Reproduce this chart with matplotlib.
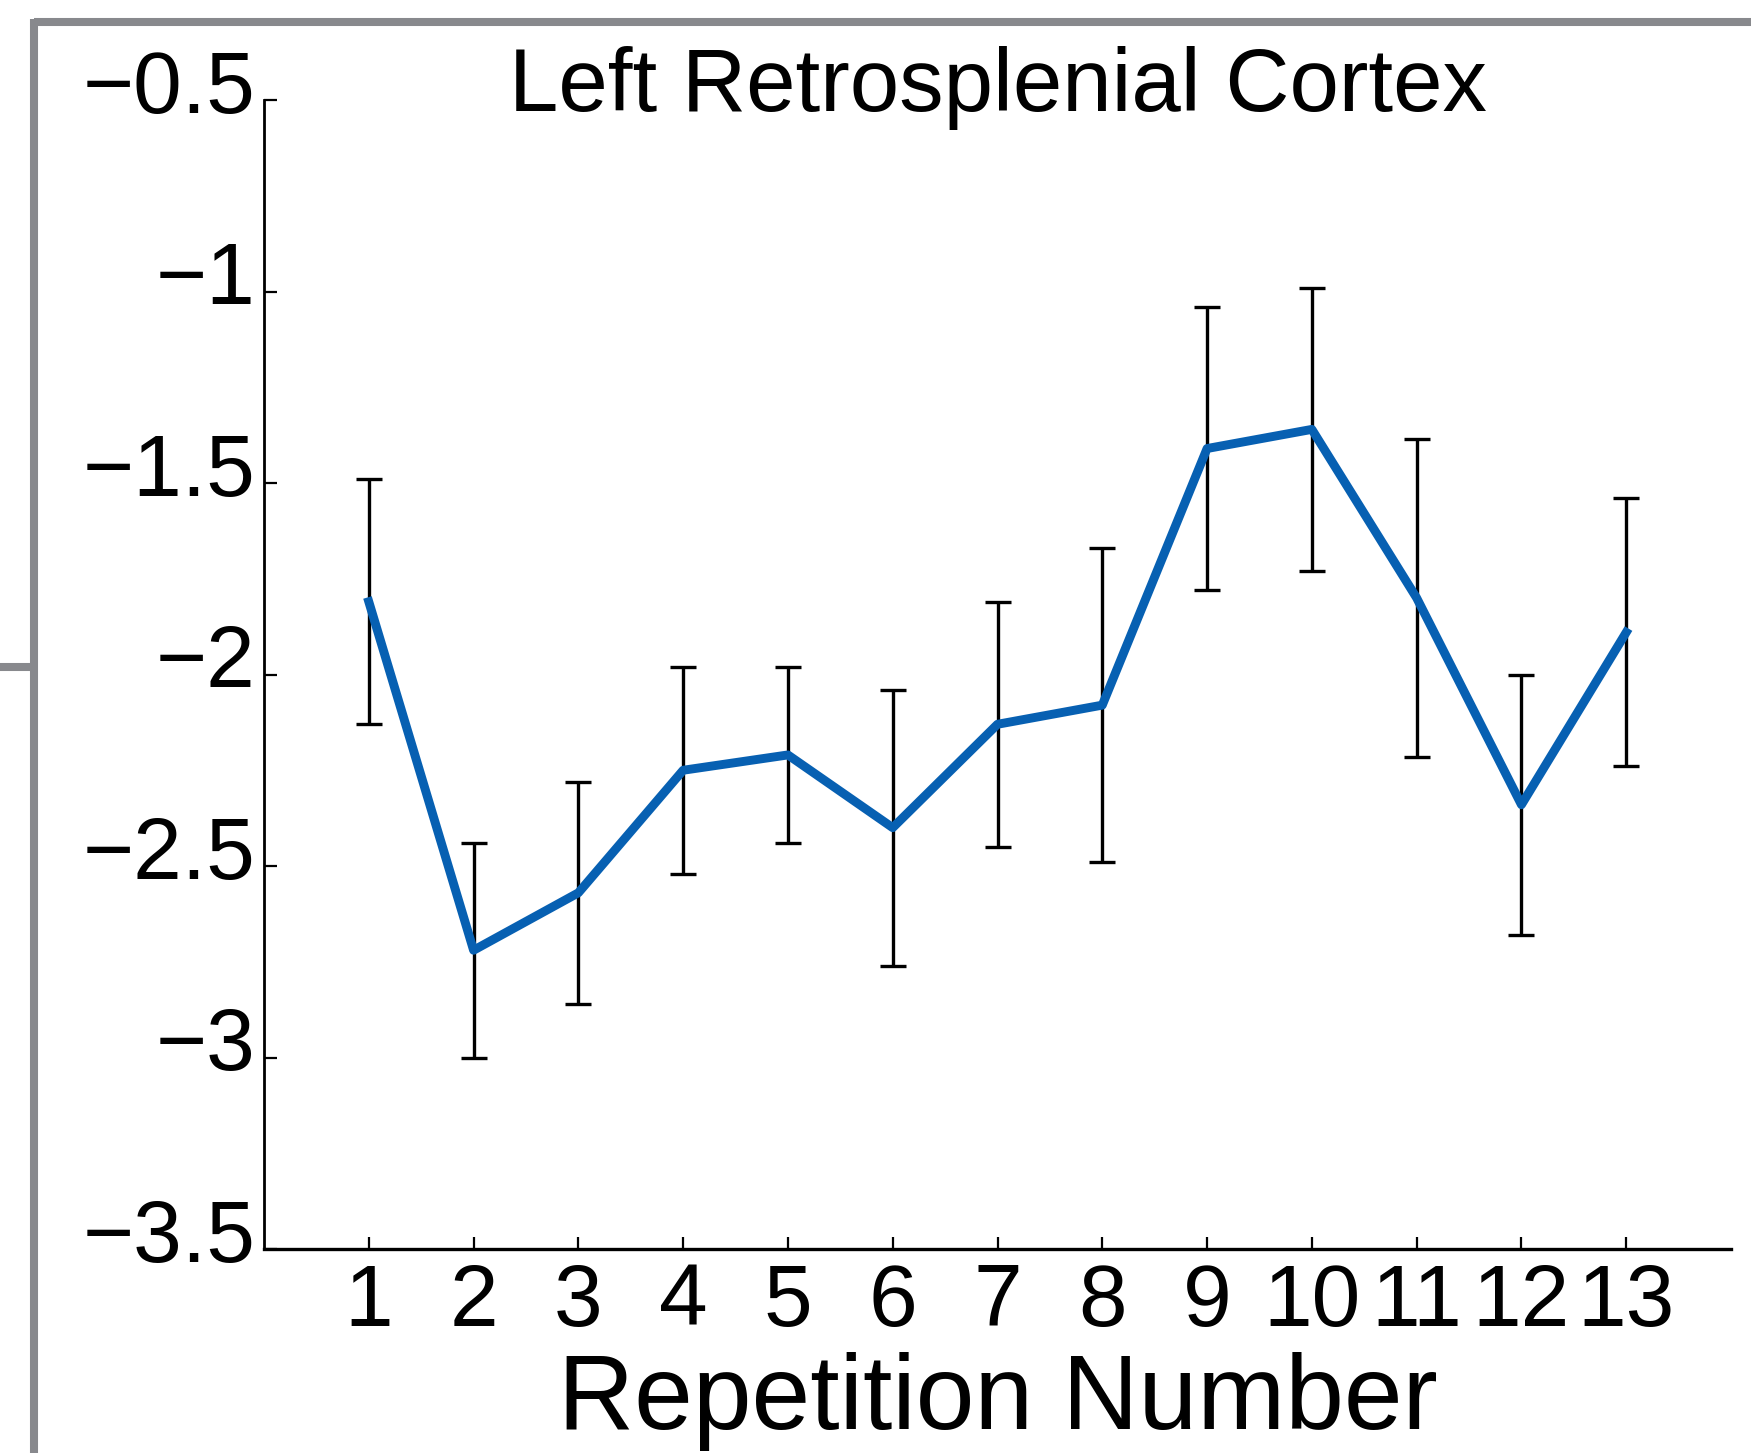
import numpy as np
import matplotlib.pyplot as plt
from matplotlib.lines import Line2D
from matplotlib.transforms import ScaledTranslation

plt.rcParams['font.family'] = ['Liberation Sans', 'DejaVu Sans']

# values
reps = [1, 2, 3, 4, 5, 6, 7, 8, 9, 10, 11, 12, 13]
means = [-1.81, -2.72, -2.57, -2.25, -2.21, -2.40, -2.13, -2.08, -1.41, -1.36, -1.80, -2.34, -1.89]
errs = [0.32, 0.28, 0.29, 0.27, 0.23, 0.36, 0.32, 0.41, 0.37, 0.37, 0.415, 0.34, 0.35]
yticks = [-3.5, -3, -2.5, -2, -1.5, -1, -0.5]
ytick_labels = ['−3.5', '−3', '−2.5', '−2', '−1.5', '−1', '−0.5']
title = 'Left Retrosplenial Cortex'
xlabel = 'Repetition Number'

fig = plt.figure(figsize=(17.51, 14.53), dpi=100)
ax = fig.add_axes([264 / 1751, 1 - 1249 / 1453, (1731 - 264) / 1751, (1249 - 100) / 1453])

ax.errorbar(reps, means, yerr=errs, fmt='none', ecolor='black', elinewidth=2.4,
            capsize=9.5, capthick=2.4, zorder=2)
ax.plot(reps, means, color='#0760b2', lw=6.4, zorder=3)

ax.set_xlim(0, 14)
ax.set_ylim(-3.5, -0.5)
ax.set_xticks(reps)
ax.set_xticklabels([str(r) for r in reps])
ax.set_yticks(yticks)
ax.set_yticklabels(ytick_labels)

for s in ['top', 'right']:
    ax.spines[s].set_visible(False)
ax.spines['left'].set_linewidth(2.0)
ax.spines['bottom'].set_linewidth(2.4)
ax.tick_params(direction='in', length=9, width=1.6, labelsize=63)
ax.tick_params(axis='x', pad=10)
ax.tick_params(axis='y', pad=6)

# MATLAB-like: y labels sit a bit above their ticks
shift = ScaledTranslation(0, -9 / 72, fig.dpi_scale_trans)
for lab in ax.get_yticklabels():
    lab.set_verticalalignment('baseline')
    lab.set_transform(lab.get_transform() + shift)

ax.set_xlabel(xlabel, fontsize=76, labelpad=6)
ax.text(0.5, 0.990, title, transform=ax.transAxes, ha='center', va='baseline', fontsize=64)

# grey frame from the screenshot
gray = '#88898d'
fig.add_artist(Line2D([34 / 1751, 1], [1 - 22 / 1453, 1 - 22 / 1453], color=gray, lw=5.8,
                      solid_capstyle='butt'))
fig.add_artist(Line2D([34 / 1751, 34 / 1751], [0, 1 - 19 / 1453], color=gray, lw=5.8,
                      solid_capstyle='butt'))
fig.add_artist(Line2D([0, 34 / 1751], [1 - 667 / 1453, 1 - 667 / 1453], color=gray, lw=5.8,
                      solid_capstyle='butt'))

fig.savefig('out.png', dpi=100)
